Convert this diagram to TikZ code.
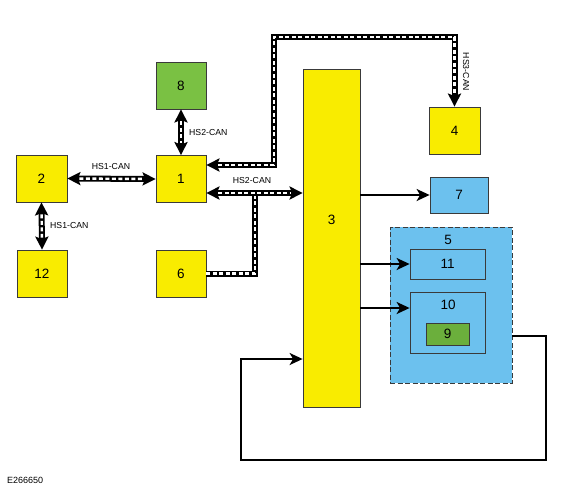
\documentclass[tikz,border=0pt]{standalone}
\usepackage{fontspec}
\setmainfont{Liberation Sans}
\usetikzlibrary{arrows.meta,calc}
\definecolor{ylw}{HTML}{F9EC00}
\definecolor{grn}{HTML}{7AC143}
\definecolor{grn2}{HTML}{6BAF3C}
\definecolor{blu}{HTML}{6CC1EE}
\definecolor{edge}{HTML}{3A3A3A}
\tikzset{
  box/.style={draw=edge, line width=0.8pt, rectangle, inner sep=0pt, font=\fontsize{13.5}{13.5}\selectfont},
  ybox/.style={box, fill=ylw},
  gbox/.style={box, fill=grn},
  bbox/.style={box, fill=blu},
  lbl/.style={font=\fontsize{13.5}{13.5}\selectfont, inner sep=0pt},
  canlbl/.style={font=\fontsize{8.7}{8.7}\selectfont, inner sep=0pt},
  bustip/.tip={Stealth[length=13pt, width=13pt, inset=2.5pt]},
  bus/.style={draw=black, line width=6pt, line join=miter, line cap=butt,
     postaction={draw=white, line width=2.4pt, dash pattern=on 4pt off 2.5pt, -, shorten >=#1, shorten <=#1}},
  bus/.default=12pt,
  busplain/.style={draw=black, line width=6pt, line join=miter, line cap=butt,
     postaction={draw=white, line width=2.4pt, dash pattern=on 4pt off 2.5pt}},
  sig/.style={draw=black, line width=2pt, line join=miter, -{Stealth[length=13pt, width=12pt, inset=3.5pt]}},
}
\begin{document}
\begin{tikzpicture}[x=1pt,y=-1pt]
\useasboundingbox (0,0) rectangle (580,490);
% boxes
\node[gbox, minimum width=50pt, minimum height=47pt] (n8) at (181,85.5) {8};
\node[ybox, minimum width=51pt, minimum height=47pt] (n2) at (41.5,178.5) {2};
\node[ybox, minimum width=50pt, minimum height=47pt] (n1) at (181,179) {1};
\node[ybox, minimum width=50pt, minimum height=47pt] (n12) at (42,273.5) {12};
\node[ybox, minimum width=50pt, minimum height=47pt] (n6) at (181,273.5) {6};
\node[ybox, minimum width=57pt, minimum height=338pt] (n3) at (331.5,238) {};
\node[lbl] (l3) at (331.5,220) {3};
\node[ybox, minimum width=51pt, minimum height=47pt] (n4) at (454.5,130.5) {4};
\node[bbox, minimum width=58pt, minimum height=36pt] (n7) at (459,195) {7};
\node[bbox, dashed, dash pattern=on 5pt off 2.5pt, minimum width=122pt, minimum height=156pt] (n5) at (451,305) {};
\node[lbl] (l5) at (448,239.5) {5};
\node[bbox, minimum width=75pt, minimum height=30pt] (n11) at (447.5,264) {11};
\node[bbox, minimum width=75pt, minimum height=61pt] (n10) at (447.5,322.5) {};
\node[lbl] (l10) at (448,304.5) {10};
\node[box, fill=grn2, minimum width=43pt, minimum height=22pt] (n9) at (447.5,334) {9};
% CAN buses
\draw[bus, bustip-bustip] (n8.south) -- (n1.north);
\node[canlbl, anchor=west] (t81) at (189,133) {HS2-CAN};
\draw[bus, bustip-bustip] (n2.east) -- (n1.west);
\node[canlbl] (t21) at (111,167) {HS1-CAN};
\draw[bus, bustip-bustip] (n2.south) -- (n12.north);
\node[canlbl, anchor=west] (t212) at (50,226) {HS1-CAN};
\coordinate (j14) at (274,37);
\draw[bus, bustip-bustip] ($(n1.east)+(0,-14)$) -| (j14) -| (n4.north);
\node[canlbl, rotate=-90] (t14) at (466,72) {HS3-CAN};
\coordinate (j6) at (255,193);
\draw[busplain] (n6.east) -| (j6);
\draw[bus, bustip-bustip] ($(n1.east)+(0,14)$) -- (n3.west |- j6);
\node[canlbl] (t13) at (252,181) {HS2-CAN};
% signal arrows
\draw[sig] (n3.east |- n7.west) -- (n7.west);
\draw[sig] (n3.east |- n11.west) -- (n11.west);
\draw[sig] (n3.east |- 0,308) -- (n10.west |- 0,308);
\coordinate (k1) at (546,336);
\coordinate (k2) at (241,460);
\draw[sig] (n5.east |- k1) -- (k1) |- (k2) |- (n3.west |- 0,359);
% code
\node[font=\fontsize{9}{9}\selectfont, inner sep=0pt, anchor=west] (code) at (7,480) {E266650};
\end{tikzpicture}
\end{document}
